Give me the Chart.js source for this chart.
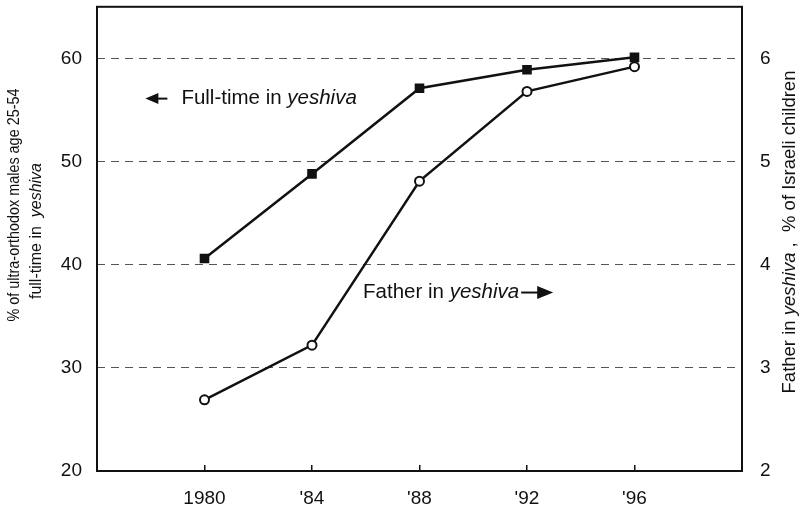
<!DOCTYPE html>
<html>
<head>
<meta charset="utf-8">
<script src="https://cdn.jsdelivr.net/npm/chart.js@4"></script>
<style>
  html, body { margin: 0; padding: 0; background: #fff; }
  #wrap { width: 802px; height: 510px; }
</style>
</head>
<body>
<div id="wrap"><canvas id="yeshivaChart"></canvas></div>
<script>
// survey years and how they are printed on the x axis
var years = [1980, 1984, 1988, 1992, 1996];
var yearLabels = ['1980', "'84", "'88", "'92", "'96"];
// % of ultra-orthodox males 25-54 full-time in yeshiva (left axis)
var fullTimePct = [40.6, 48.8, 57.1, 58.9, 60.1];
// father in yeshiva, % of Israeli children (right axis)
var fatherPct = [2.69, 3.22, 4.81, 5.68, 5.92];

var FONT = '"Liberation Sans", Arial, sans-serif';
var INK = '#111';

// draws a run of text pieces (some italic) one after another
function drawRuns(ctx, runs, x, y, size, align) {
    var total = 0;
    runs.forEach(function (r) {
        ctx.font = (r.italic ? 'italic ' : '') + size + 'px ' + FONT;
        r.w = ctx.measureText(r.text).width;
        total += r.w;
    });
    var cx = align === 'center' ? x - total / 2 : x;
    runs.forEach(function (r) {
        ctx.font = (r.italic ? 'italic ' : '') + size + 'px ' + FONT;
        ctx.fillText(r.text, cx, y);
        cx += r.w;
    });
    return cx;
}

var decorations = {
    id: 'decorations',
    afterDraw: function (chart) {
        var ctx = chart.ctx;
        var a = chart.chartArea;
        var xs = chart.scales.x, yl = chart.scales.y;
        ctx.save();
        ctx.fillStyle = INK;
        ctx.strokeStyle = INK;

        // plot frame
        ctx.lineWidth = 2;
        ctx.strokeRect(a.left, a.top, a.right - a.left, a.bottom - a.top);

        ctx.textBaseline = 'middle';

        // left axis title (two lines); the first line is set a little narrow
        ctx.save();
        ctx.translate(15, 205);
        ctx.rotate(-Math.PI / 2);
        ctx.scale(0.9, 1);
        drawRuns(ctx, [{ text: '% of ultra-orthodox males age 25-54' }], 0, 0, 16, 'center');
        ctx.restore();
        ctx.save();
        ctx.translate(37, 231);
        ctx.rotate(-Math.PI / 2);
        drawRuns(ctx, [{ text: 'full-time in  ' }, { text: 'yeshiva', italic: true }], 0, 0, 16, 'center');
        ctx.restore();

        // right axis title
        ctx.save();
        ctx.translate(790, 232);
        ctx.rotate(-Math.PI / 2);
        drawRuns(ctx, [{ text: 'Father in ' }, { text: 'yeshiva', italic: true }, { text: ' ,  % of Israeli children' }], 0, 0, 18.5, 'center');
        ctx.restore();

        // annotation: full-time series, arrow pointing left
        var ax = xs.getPixelForValue(1977.8), ay = yl.getPixelForValue(56.1);
        ctx.beginPath();
        ctx.moveTo(ax, ay);
        ctx.lineTo(ax + 13, ay - 5.5);
        ctx.lineTo(ax + 13, ay + 5.5);
        ctx.closePath();
        ctx.fill();
        ctx.lineWidth = 2;
        ctx.beginPath();
        ctx.moveTo(ax + 10, ay);
        ctx.lineTo(ax + 22, ay);
        ctx.stroke();
        drawRuns(ctx, [{ text: 'Full-time in ' }, { text: 'yeshiva', italic: true }], ax + 36, ay, 20.5, 'left');

        // annotation: father series, arrow pointing right
        var bx = xs.getPixelForValue(1985.9), by = yl.getPixelForValue(37.3);
        var end = drawRuns(ctx, [{ text: 'Father in ' }, { text: 'yeshiva', italic: true }], bx, by, 20.5, 'left');
        ctx.beginPath();
        ctx.moveTo(end + 2, by);
        ctx.lineTo(end + 20, by);
        ctx.stroke();
        ctx.beginPath();
        ctx.moveTo(end + 34, by);
        ctx.lineTo(end + 18, by - 6.5);
        ctx.lineTo(end + 18, by + 6.5);
        ctx.closePath();
        ctx.fill();

        ctx.restore();
    }
};

// keep the axes from reserving extra room for half-labels at the ends
function noEdgePadding(scale) {
    scale.paddingTop = 0;
    scale.paddingBottom = 0;
    scale.paddingLeft = 0;
    scale.paddingRight = 0;
}

var ctx = document.getElementById('yeshivaChart').getContext('2d');
var yeshivaChart = new Chart(ctx, {
    type: 'line',
    data: {
        datasets: [
            {
                label: 'Full-time in yeshiva',
                data: years.map(function (yr, i) { return { x: yr, y: fullTimePct[i] }; }),
                yAxisID: 'y',
                borderColor: INK,
                borderWidth: 2.5,
                pointStyle: 'rect',
                pointRadius: 6.8,
                pointBackgroundColor: INK,
                pointBorderColor: INK,
                pointBorderWidth: 0,
                tension: 0
            },
            {
                label: 'Father in yeshiva',
                data: years.map(function (yr, i) { return { x: yr, y: fatherPct[i] }; }),
                yAxisID: 'y2',
                borderColor: INK,
                borderWidth: 2.5,
                pointStyle: 'circle',
                pointRadius: 4.5,
                pointBackgroundColor: '#fff',
                pointBorderColor: INK,
                pointBorderWidth: 2,
                tension: 0
            }
        ]
    },
    options: {
        responsive: true,
        maintainAspectRatio: false,
        animation: false,
        layout: { padding: { top: 4, left: 0, right: 0, bottom: 0 } },
        plugins: {
            legend: { display: false },
            tooltip: { enabled: false }
        },
        scales: {
            x: {
                type: 'linear',
                min: 1976,
                max: 2000,
                afterBuildTicks: function (scale) {
                    scale.ticks = years.map(function (v) { return { value: v }; });
                },
                afterFit: function (scale) { scale.height = 39; noEdgePadding(scale); },
                grid: {
                    drawOnChartArea: false,
                    drawTicks: true,
                    tickLength: -6,
                    color: INK,
                    lineWidth: 1.5
                },
                border: { display: false },
                ticks: {
                    padding: 22,
                    color: INK,
                    font: { family: FONT, size: 19 },
                    callback: function (value) {
                        var i = years.indexOf(value);
                        return i >= 0 ? yearLabels[i] : '';
                    }
                }
            },
            y: {
                position: 'left',
                min: 20,
                max: 65,
                afterFit: function (scale) { scale.width = 97; noEdgePadding(scale); },
                grid: {
                    drawTicks: false,
                    color: function (c) { return c.tick && c.tick.value === 20 ? 'rgba(0,0,0,0)' : '#555'; },
                    lineWidth: 1
                },
                border: { display: false, dash: [8, 6] },
                ticks: {
                    stepSize: 10,
                    includeBounds: false,
                    padding: 15,
                    color: INK,
                    font: { family: FONT, size: 19 }
                }
            },
            y2: {
                position: 'right',
                min: 2,
                max: 6.5,
                afterFit: function (scale) { scale.width = 60; noEdgePadding(scale); },
                grid: { drawOnChartArea: false, drawTicks: false },
                border: { display: false },
                ticks: {
                    stepSize: 1,
                    includeBounds: false,
                    padding: 18,
                    color: INK,
                    font: { family: FONT, size: 19 }
                }
            }
        }
    },
    plugins: [decorations]
});
</script>
</body>
</html>
